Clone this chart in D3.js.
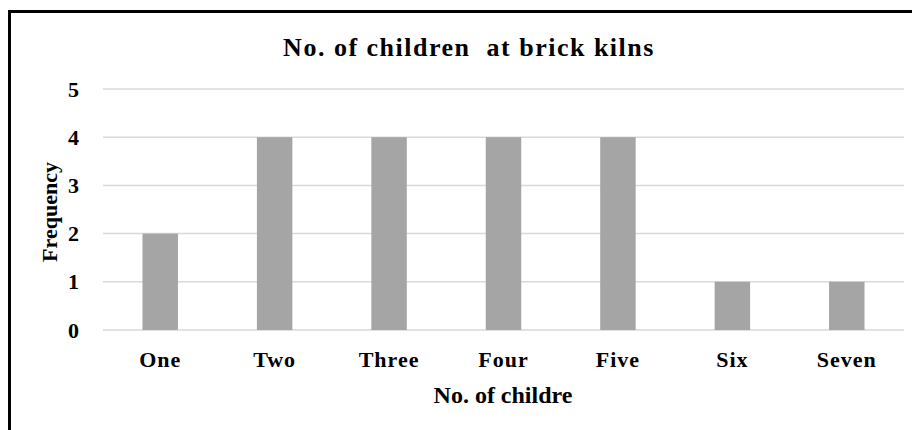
<!DOCTYPE html>
<html>
<head>
<meta charset="utf-8">
<script src="https://cdn.jsdelivr.net/npm/d3@7"></script>
<style>
  body { margin: 0; background: #fff; }
</style>
</head>
<body>
<div id="chart"></div>
<script>
var categories = ["One", "Two", "Three", "Four", "Five", "Six", "Seven"];
var frequency = [2, 4, 4, 4, 4, 1, 1];
var yTicks = [0, 1, 2, 3, 4, 5];

var chart_width = 912;
var chart_height = 430;
var font = "'Liberation Serif', 'Times New Roman', 'DejaVu Serif', serif";

var svg = d3.select("#chart")
        .append("svg")
        .attr("width", chart_width)
        .attr("height", chart_height)
        .attr("font-family", font)
        .attr("font-weight", "bold");

// outer frame (runs off the right and bottom edges)
svg.append("rect")
        .attr("x", 9.5)
        .attr("y", 11.5)
        .attr("width", 960)
        .attr("height", 460)
        .attr("fill", "none")
        .attr("stroke", "#000")
        .attr("stroke-width", 3);

var x = d3.scaleBand()
        .domain(categories)
        .range([103, 904])
        .paddingInner(0.69)
        .paddingOuter(0.345);

var y = d3.scaleLinear()
        .domain([0, 5])
        .range([330, 89]);

// gridlines
svg.selectAll("line.grid")
        .data(yTicks)
        .enter()
        .append("line")
        .attr("class", "grid")
        .attr("x1", 103)
        .attr("x2", 904)
        .attr("y1", function (d) { return y(d); })
        .attr("y2", function (d) { return y(d); })
        .attr("stroke", "#d9d9d9")
        .attr("stroke-width", 1.5);

// bars
svg.selectAll("rect.bar")
        .data(frequency)
        .enter()
        .append("rect")
        .attr("class", "bar")
        .attr("x", function (d, i) { return x(categories[i]); })
        .attr("y", function (d) { return y(d); })
        .attr("width", x.bandwidth())
        .attr("height", function (d) { return y(0) - y(d); })
        .attr("fill", "#a5a5a5");

// y tick labels
svg.selectAll("text.ytick")
        .data(yTicks)
        .enter()
        .append("text")
        .attr("class", "ytick")
        .attr("x", 79)
        .attr("y", function (d) { return y(d) + 7.5; })
        .attr("text-anchor", "end")
        .style("font-size", "22px")
        .text(function (d) { return d; });

// x tick labels
svg.selectAll("text.xtick")
        .data(categories)
        .enter()
        .append("text")
        .attr("class", "xtick")
        .attr("x", function (d) { return x(d) + x.bandwidth() / 2; })
        .attr("y", 367)
        .attr("text-anchor", "middle")
        .style("font-size", "22px")
        .style("letter-spacing", "1px")
        .text(function (d) { return d; });

// title
svg.append("text")
        .attr("x", 469)
        .attr("y", 56)
        .attr("text-anchor", "middle")
        .style("font-size", "26px")
        .style("letter-spacing", "1.5px")
        .text("No. of children\u00a0 at brick kilns");

// axis titles
svg.append("text")
        .attr("x", 503)
        .attr("y", 403)
        .attr("text-anchor", "middle")
        .style("font-size", "24px")
        .text("No. of childre");

svg.append("text")
        .attr("transform", "translate(57,212) rotate(-90)")
        .attr("text-anchor", "middle")
        .style("font-size", "22px")
        .text("Frequency");
</script>
</body>
</html>
